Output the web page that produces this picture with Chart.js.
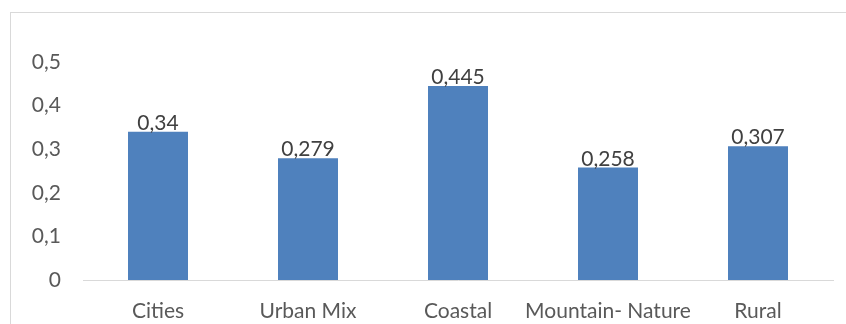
<!DOCTYPE html>
<html>
<head>
<meta charset="utf-8">
<script src="https://cdn.jsdelivr.net/npm/chart.js@4"></script>
<style>
  html, body { margin: 0; padding: 0; background: #fff; }
  #wrap { position: relative; width: 846px; height: 324px; overflow: hidden; }
  #frame { position: absolute; left: 10px; top: 12px; width: 900px; height: 400px; border: 1px solid #d9d9d9; box-sizing: border-box; }
  canvas { position: absolute; left: 0; top: 0; }
</style>
</head>
<body>
<div id="wrap">
  <div id="frame"></div>
  <canvas id="chart" width="846" height="324"></canvas>
</div>
<script>
const categories = ['Cities', 'Urban Mix', 'Coastal', 'Mountain- Nature', 'Rural'];
const values = [0.34, 0.279, 0.445, 0.258, 0.307];
const valueLabels = ['0,34', '0,279', '0,445', '0,258', '0,307'];

const fontFamily = 'Lato, "Open Sans", sans-serif';

// value labels above the bars
const barLabels = {
  id: 'barLabels',
  afterDatasetsDraw(chart) {
    const ctx = chart.ctx;
    const meta = chart.getDatasetMeta(0);
    ctx.save();
    ctx.font = '21px ' + fontFamily;
    ctx.fillStyle = '#404040';
    ctx.textAlign = 'center';
    ctx.textBaseline = 'alphabetic';
    meta.data.forEach((bar, i) => {
      ctx.fillText(valueLabels[i], bar.x, bar.y - 2);
    });
    ctx.restore();
  }
};

new Chart(document.getElementById('chart'), {
  type: 'bar',
  data: {
    labels: categories,
    datasets: [{
      data: values,
      backgroundColor: '#4f81bd',
      borderWidth: 0,
      categoryPercentage: 1,
      barPercentage: 0.4
    }]
  },
  options: {
    responsive: false,
    animation: false,
    devicePixelRatio: 1,
    layout: { padding: { top: 62, right: 13, bottom: 0, left: 0 } },
    plugins: { legend: { display: false }, tooltip: { enabled: false } },
    scales: {
      x: {
        grid: { display: false, drawTicks: false },
        border: { display: true, color: '#d9d9d9', width: 1 },
        afterFit(scale) { scale.height = 44; },
        ticks: { color: '#595959', font: { family: fontFamily, size: 21 }, padding: 19, maxRotation: 0, autoSkip: false }
      },
      y: {
        min: 0,
        max: 0.5,
        grid: { display: false, drawTicks: false },
        border: { display: false },
        afterFit(scale) { scale.width = 83; },
        ticks: {
          stepSize: 0.1,
          color: '#595959',
          font: { family: fontFamily, size: 21 },
          padding: 22,
          callback: v => String(Math.round(v * 10) / 10).replace('.', ',')
        }
      }
    }
  },
  plugins: [barLabels]
});
</script>
</body>
</html>
